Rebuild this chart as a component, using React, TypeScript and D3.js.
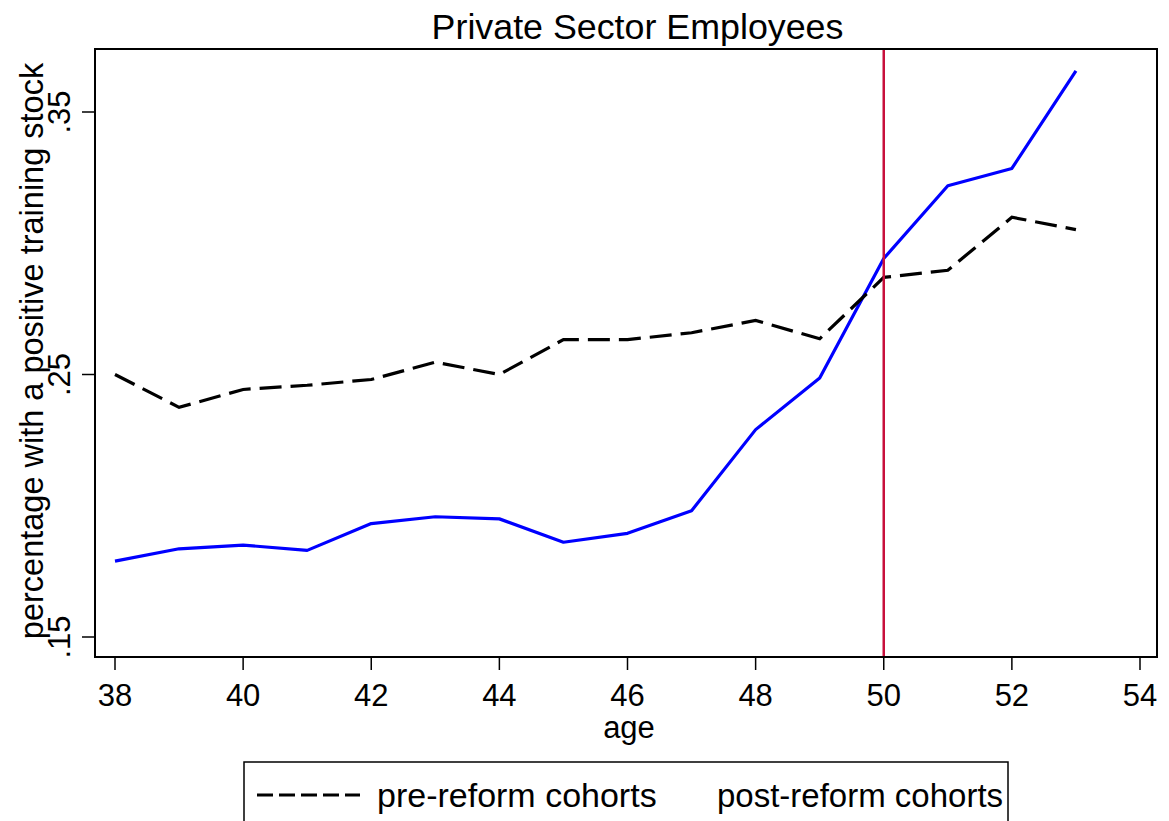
import React from "react";
import * as d3 from "d3";

// ages on the x axis
const ages = [38, 39, 40, 41, 42, 43, 44, 45, 46, 47, 48, 49, 50, 51, 52, 53];
// share with a positive training stock
const preReform = [0.25, 0.2375, 0.2443, 0.2459, 0.2481, 0.2547, 0.25, 0.2633, 0.2633, 0.2659, 0.2706, 0.2636, 0.287, 0.2897, 0.3099, 0.3052];
const postReform = [0.1789, 0.1836, 0.185, 0.183, 0.1932, 0.1958, 0.195, 0.1861, 0.1895, 0.1981, 0.229, 0.2487, 0.2942, 0.3219, 0.3285, 0.3657];
const xTicks = [38, 40, 42, 44, 46, 48, 50, 52, 54];
const yTicks = [0.15, 0.25, 0.35];
const yTickLabels = [".15", ".25", ".35"];
const reformAge = 50;

const W = 1169;
const H = 821;
const font = "'Liberation Sans', Arial, sans-serif";

export default function App() {
  const left = 95, right = 1157, top = 49, bottom = 657;

  const x = d3.scaleLinear().domain([38, 54]).range([115, 1140]);
  const y = d3.scaleLinear().domain([0.15, 0.35]).range([637, 112]);

  const line = d3.line<[number, number]>().x((d) => x(d[0])).y((d) => y(d[1]));
  const prePts = ages.map((a, i) => [a, preReform[i]] as [number, number]);
  const postPts = ages.map((a, i) => [a, postReform[i]] as [number, number]);

  return (
    <svg width={W} height={H} style={{ position: "absolute", left: 0, top: 0, background: "#fff" }} fontFamily={font}>
      <rect x={0} y={0} width={W} height={H} fill="#fff" />
      <text x={637.5} y={39} fontSize={35.8} textAnchor="middle">Private Sector Employees</text>

      <path d={line(postPts) || ""} fill="none" stroke="#0000ff" strokeWidth={3.2} strokeLinejoin="round" />
      <path d={line(prePts) || ""} fill="none" stroke="#000" strokeWidth={3.2} strokeDasharray="22 9" />
      <line x1={x(reformAge)} x2={x(reformAge)} y1={top} y2={bottom} stroke="#c8103c" strokeWidth={2.5} />

      <rect x={left} y={top} width={right - left} height={bottom - top} fill="none" stroke="#000" strokeWidth={2} />

      {xTicks.map((t) => (
        <g key={t}>
          <line x1={x(t)} x2={x(t)} y1={bottom} y2={bottom + 13} stroke="#000" strokeWidth={1.5} />
          <text x={x(t)} y={706} fontSize={31} textAnchor="middle">{t}</text>
        </g>
      ))}
      {yTicks.map((t, i) => (
        <g key={t}>
          <line x1={left - 13} x2={left} y1={y(t)} y2={y(t)} stroke="#000" strokeWidth={1.5} />
          <text transform={`translate(70,${y(t)}) rotate(-90)`} fontSize={31} textAnchor="middle">{yTickLabels[i]}</text>
        </g>
      ))}

      <text x={629} y={738} fontSize={31} textAnchor="middle">age</text>
      <text transform={`translate(43,${(top + bottom) / 2 - 2}) rotate(-90)`} fontSize={32.5} textAnchor="middle">
        percentage with a positive training stock
      </text>

      <rect x={244} y={762} width={764} height={80} fill="none" stroke="#000" strokeWidth={1.5} />
      <line x1={257} x2={360} y1={795} y2={795} stroke="#000" strokeWidth={3} strokeDasharray="16 6" />
      <text x={377} y={807} fontSize={34}>pre-reform cohorts</text>
      <text x={717} y={807} fontSize={33}>post-reform cohorts</text>
    </svg>
  );
}
